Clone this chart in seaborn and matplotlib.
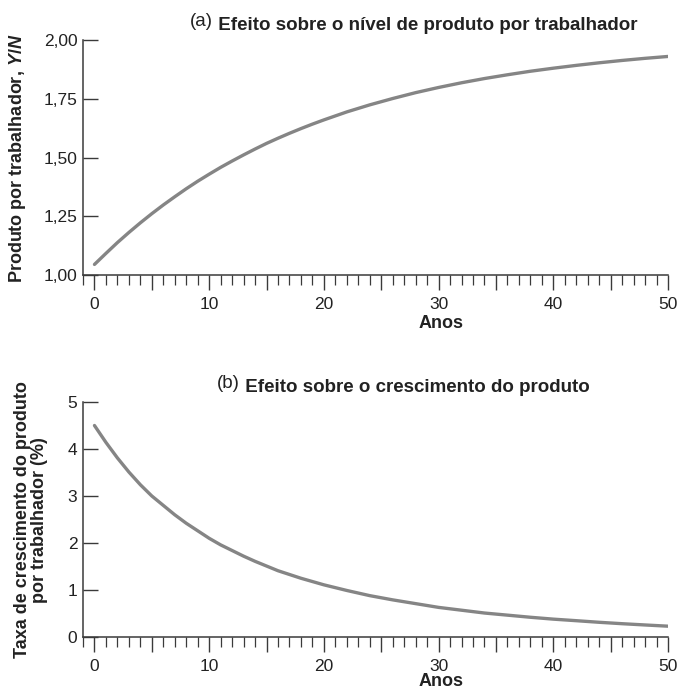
import numpy as np
import pandas as pd
import matplotlib
matplotlib.use("Agg")
import matplotlib.pyplot as plt
from matplotlib.ticker import FixedLocator, FixedFormatter, MultipleLocator
import seaborn as sns

# ---- data ----
anos = [0, 1, 2, 3, 4, 5, 6, 7, 8, 9, 10, 11, 12, 13, 14, 15, 16, 17, 18, 19, 20,
        22, 24, 26, 28, 30, 32, 34, 36, 38, 40, 42, 44, 46, 48, 50]
produto = [1.045, 1.092, 1.138, 1.181, 1.222, 1.261, 1.298, 1.333, 1.367, 1.399,
           1.429, 1.458, 1.485, 1.511, 1.536, 1.560, 1.582, 1.603, 1.623, 1.642,
           1.660, 1.694, 1.724, 1.751, 1.776, 1.798, 1.818, 1.836, 1.852, 1.867,
           1.880, 1.892, 1.903, 1.913, 1.922, 1.930]
crescimento = [4.50, 4.14, 3.81, 3.51, 3.24, 3.00, 2.80, 2.60, 2.42, 2.26,
               2.10, 1.96, 1.84, 1.72, 1.61, 1.51, 1.41, 1.33, 1.25, 1.18,
               1.11, 0.99, 0.88, 0.79, 0.71, 0.63, 0.57, 0.51, 0.465, 0.42,
               0.38, 0.347, 0.313, 0.283, 0.256, 0.23]
x_major = [0, 5, 10, 15, 20, 25, 30, 35, 40, 45, 50]
x_labels = ["0", "", "10", "", "20", "", "30", "", "40", "", "50"]
y_a_ticks = [1.00, 1.25, 1.50, 1.75, 2.00]
y_a_labels = ["1,00", "1,25", "1,50", "1,75", "2,00"]
y_b_ticks = [0, 1, 2, 3, 4, 5]
y_b_labels = ["0", "1", "2", "3", "4", "5"]

df = pd.DataFrame({"Anos": anos, "produto": produto, "crescimento": crescimento})

sns.set_theme(style="ticks")
plt.rcParams["font.family"] = ["Liberation Sans", "DejaVu Sans"]
plt.rcParams["mathtext.fontset"] = "custom"
plt.rcParams["mathtext.it"] = "Liberation Sans:bold:italic"
plt.rcParams["mathtext.rm"] = "Liberation Sans:bold"

W, H = 682, 690
fig = plt.figure(figsize=(W / 100, H / 100), dpi=100)
fig.patch.set_facecolor("white")

txt = "#222222"
axcol = "#3a3a3a"
linecol = "#858585"

def px_rect(l, t, r, b):
    return [l / W, 1 - b / H, (r - l) / W, (b - t) / H]

ax1 = fig.add_axes(px_rect(83, 40, 668, 275))
ax2 = fig.add_axes(px_rect(83, 402, 668, 637))

for ax, col, yt, yl, ylim in [
    (ax1, "produto", y_a_ticks, y_a_labels, (1.0, 2.0)),
    (ax2, "crescimento", y_b_ticks, y_b_labels, (0, 5)),
]:
    sns.lineplot(data=df, x="Anos", y=col, ax=ax, color=linecol, linewidth=2.4,
                 solid_joinstyle="round", solid_capstyle="round")
    ax.set_xlim(-1.0, 50)
    ax.set_ylim(*ylim)
    ax.set_facecolor("white")
    for s in ["top", "right"]:
        ax.spines[s].set_visible(False)
    for s in ["left", "bottom"]:
        ax.spines[s].set_color(axcol)
        ax.spines[s].set_linewidth(1.1)
    ax.xaxis.set_major_locator(FixedLocator(x_major))
    ax.xaxis.set_major_formatter(FixedFormatter(x_labels))
    ax.xaxis.set_minor_locator(MultipleLocator(1))
    ax.yaxis.set_major_locator(FixedLocator(yt))
    ax.yaxis.set_major_formatter(FixedFormatter(yl))
    ax.tick_params(axis="x", which="major", direction="out", length=11, width=1.0,
                   color=axcol, labelsize=12.5, labelcolor=txt, pad=4.5)
    ax.tick_params(axis="x", which="minor", direction="out", length=7.5, width=0.9,
                   color=axcol)
    ax.tick_params(axis="y", which="major", direction="in", length=10.5, width=1.0,
                   color=axcol, labelsize=12.5, labelcolor=txt, pad=4)
    ax.set_xlabel("")
    ax.set_ylabel("")

# x labels
fig.text(441 / W, 1 - 323 / H, "Anos", ha="center", va="center",
         fontsize=13, fontweight="bold", color=txt)
fig.text(441 / W, 1 - 681 / H, "Anos", ha="center", va="center",
         fontsize=13, fontweight="bold", color=txt)

# y labels
fig.text(18 / W, 1 - 158 / H, r"Produto por trabalhador, $Y/N$", rotation=90,
         ha="center", va="center", fontsize=13, fontweight="bold", color=txt)
fig.text(31 / W, 1 - 520 / H, "Taxa de crescimento do produto\npor trabalhador (%)",
         rotation=90, ha="center", va="center", multialignment="center",
         fontsize=13, fontweight="bold", color=txt, linespacing=1.05)

# titles: regular "(a)" followed by bold text
def title(x, y, tag, rest):
    t = fig.text(x / W, 1 - y / H, tag, ha="left", va="baseline",
                 fontsize=13.5, color=txt)
    fig.canvas.draw()
    ann = plt.annotate(" " + rest, xy=(1, 0), xycoords=t, ha="left", va="baseline",
                       fontsize=13.5, fontweight="bold", color=txt,
                       annotation_clip=False)
    return ann

title(190, 26, "(a)", "Efeito sobre o nível de produto por trabalhador")
title(217, 388, "(b)", "Efeito sobre o crescimento do produto")

fig.savefig("out.png", dpi=100, facecolor="white")
